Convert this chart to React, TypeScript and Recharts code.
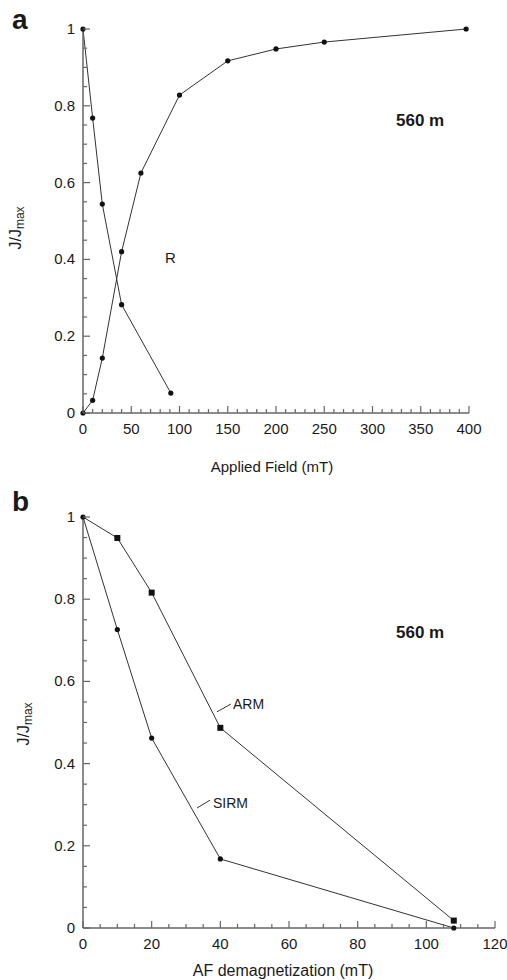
import React from "react";
import { LineChart, Line, XAxis, YAxis, ReferenceLine } from "recharts";

const FONT = '"Liberation Sans", Arial, Helvetica, sans-serif';
const INK = "#1a1a1a";
const AXIS = "#666";
const TRACE = "#333";

// panel a: IRM acquisition and its AF demagnetization (R)
const irmField = [0, 10, 20, 40, 60, 100, 150, 200, 250, 397];
const irmValue = [0, 0.033, 0.143, 0.42, 0.625, 0.828, 0.917, 0.948, 0.966, 1.0];
const rField = [0, 10, 20, 40, 91];
const rValue = [1, 0.768, 0.544, 0.282, 0.052];

// panel b: AF demagnetization of ARM and SIRM
const afStep = [0, 10, 20, 40, 108];
const armValue = [1, 0.949, 0.816, 0.487, 0.018];
const sirmValue = [1, 0.726, 0.462, 0.168, 0];

const yLabels = ["0", "0.2", "0.4", "0.6", "0.8", "1"];
const fieldLabels = ["0", "50", "100", "150", "200", "250", "300", "350", "400"];
const afLabels = ["0", "20", "40", "60", "80", "100", "120"];

// minor ticks
const yTicks = Array.from({ length: 21 }, (_, i) => Math.round(i * 5) / 100);
const fieldTicks = Array.from({ length: 41 }, (_, i) => i * 10);
const afTicks = Array.from({ length: 25 }, (_, i) => i * 5);

const toPoints = (xs: number[], ys: number[]) => xs.map((x, i) => ({ x, y: ys[i] }));

function XTick(props: any) {
  const { x, y, payload, labels } = props;
  const label = labels.find((l: string) => Number(l) === payload.value);
  const major = label !== undefined;
  return (
    <g>
      <line x1={x} x2={x} y1={y} y2={y - (major ? 7 : 4)} stroke={AXIS} strokeWidth={1.2} />
      {major && (
        <text x={x} y={y + 21} textAnchor="middle" fontSize={15} fill={INK} fontFamily={FONT}>
          {label}
        </text>
      )}
    </g>
  );
}

function YTick(props: any) {
  const { x, y, payload } = props;
  const label = yLabels.find((l) => Math.abs(Number(l) - payload.value) < 1e-6);
  const major = label !== undefined;
  return (
    <g>
      <line x1={x} x2={x + (major ? 7 : 4)} y1={y} y2={y} stroke={AXIS} strokeWidth={1.2} />
      {major && (
        <text x={x - 8} y={y + 5} textAnchor="end" fontSize={15} fill={INK} fontFamily={FONT}>
          {label}
        </text>
      )}
    </g>
  );
}

const Square = (props: any) => {
  const { cx, cy, index } = props;
  if (index === 0) return <g key={`sq-${index}`} />;
  return <rect key={`sq-${index}`} x={cx - 3} y={cy - 3} width={6} height={6} fill="#111" />;
};

const dot = { r: 2.6, fill: "#111", stroke: "#111", strokeWidth: 0 };

const abs = (left: number, top: number, extra: React.CSSProperties = {}): React.CSSProperties => ({
  position: "absolute",
  left,
  top,
  fontFamily: FONT,
  color: INK,
  whiteSpace: "nowrap",
  lineHeight: 1,
  ...extra,
});

function YTitle({ left, top }: { left: number; top: number }) {
  return (
    <div style={abs(left, top, { fontSize: 16, transform: "translate(-50%, -50%) rotate(-90deg)" })}>
      J/J<sub style={{ fontSize: 12, verticalAlign: "-3px" }}>max</sub>
    </div>
  );
}

export default function App() {
  return (
    <div style={{ position: "absolute", left: 0, top: 0, width: 507, height: 980, background: "#fff" }}>
      {/* panel a */}
      <div style={{ position: "absolute", left: 0, top: 0 }}>
        <LineChart width={507} height={490} margin={{ top: 29, right: 38, left: 0, bottom: 0 }}>
          <XAxis
            type="number"
            dataKey="x"
            domain={[0, 400]}
            ticks={fieldTicks}
            interval={0}
            height={77}
            tickSize={0}
            tickMargin={0}
            tickLine={false}
            axisLine={{ stroke: AXIS, strokeWidth: 1.5 }}
            tick={(p: any) => <XTick {...p} labels={fieldLabels} />}
          />
          <YAxis
            type="number"
            domain={[0, 1]}
            ticks={yTicks}
            interval={0}
            width={83}
            tickSize={0}
            tickMargin={0}
            tickLine={false}
            axisLine={{ stroke: AXIS, strokeWidth: 1.5 }}
            tick={(p: any) => <YTick {...p} />}
          />
          <Line
            data={toPoints(irmField, irmValue)}
            dataKey="y"
            type="linear"
            stroke={TRACE}
            strokeWidth={1}
            dot={dot}
            activeDot={false}
            isAnimationActive={false}
          />
          <Line
            data={toPoints(rField, rValue)}
            dataKey="y"
            type="linear"
            stroke={TRACE}
            strokeWidth={1}
            dot={dot}
            activeDot={false}
            isAnimationActive={false}
          />
        </LineChart>
      </div>
      <div style={abs(12, 6, { fontSize: 28, fontWeight: 700 })}>a</div>
      <div style={abs(396, 112, { fontSize: 17, fontWeight: 700 })}>560 m</div>
      <div style={abs(165, 250, { fontSize: 15 })}>R</div>
      <div style={abs(272, 466, { fontSize: 15, transform: "translate(-50%, -50%)" })}>Applied Field (mT)</div>
      <YTitle left={17} top={228} />

      {/* panel b */}
      <div style={{ position: "absolute", left: 0, top: 490 }}>
        <LineChart width={507} height={490} margin={{ top: 27, right: 12, left: 0, bottom: 0 }}>
          <XAxis
            type="number"
            dataKey="x"
            domain={[0, 120]}
            ticks={afTicks}
            interval={0}
            height={52}
            tickSize={0}
            tickMargin={0}
            tickLine={false}
            axisLine={{ stroke: AXIS, strokeWidth: 1.5 }}
            tick={(p: any) => <XTick {...p} labels={afLabels} />}
          />
          <YAxis
            type="number"
            domain={[0, 1]}
            ticks={yTicks}
            interval={0}
            width={83}
            tickSize={0}
            tickMargin={0}
            tickLine={false}
            axisLine={{ stroke: AXIS, strokeWidth: 1.5 }}
            tick={(p: any) => <YTick {...p} />}
          />
          <ReferenceLine segment={[{ x: 39, y: 0.526 }, { x: 43.1, y: 0.545 }]} stroke={TRACE} strokeWidth={1} />
          <ReferenceLine segment={[{ x: 33.2, y: 0.292 }, { x: 37.0, y: 0.311 }]} stroke={TRACE} strokeWidth={1} />
          <Line
            data={toPoints(afStep, armValue)}
            dataKey="y"
            type="linear"
            stroke={TRACE}
            strokeWidth={1}
            dot={<Square />}
            activeDot={false}
            isAnimationActive={false}
          />
          <Line
            data={toPoints(afStep, sirmValue)}
            dataKey="y"
            type="linear"
            stroke={TRACE}
            strokeWidth={1}
            dot={dot}
            activeDot={false}
            isAnimationActive={false}
          />
        </LineChart>
      </div>
      <div style={abs(12, 488, { fontSize: 28, fontWeight: 700 })}>b</div>
      <div style={abs(396, 624, { fontSize: 17, fontWeight: 700 })}>560 m</div>
      <div style={abs(233, 697, { fontSize: 14 })}>ARM</div>
      <div style={abs(213, 796, { fontSize: 14 })}>SIRM</div>
      <div style={abs(283, 971, { fontSize: 16, transform: "translate(-50%, -50%)" })}>AF demagnetization (mT)</div>
      <YTitle left={25} top={724} />
    </div>
  );
}
